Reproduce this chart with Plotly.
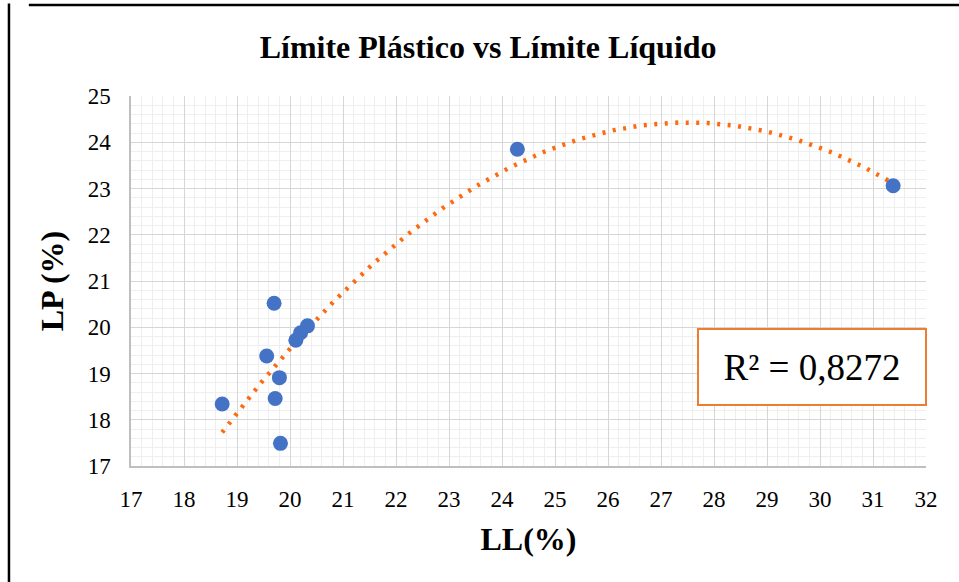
import numpy as np
import plotly.graph_objects as go

# Atterberg limits: liquid limit (LL) vs plastic limit (LP), in %
ll = [19.70, 20.33, 20.20, 20.11, 19.56, 19.80, 19.72, 18.72, 19.82, 24.29, 31.38]
lp = [20.52, 20.03, 19.88, 19.72, 19.38, 18.91, 18.46, 18.34, 17.49, 23.85, 23.06]

x_ticks = list(range(17, 33))
y_ticks = list(range(17, 26))
r2_label = "R² = 0,8272"

SERIF = "Liberation Serif, Times New Roman, serif"

# second-order polynomial trendline over the data range
coef = np.polyfit(ll, lp, 2)
xt = np.linspace(min(ll), max(ll), 200)
yt = np.polyval(coef, xt)

fig = go.Figure()
fig.add_trace(go.Scatter(
    x=xt, y=yt, mode="lines",
    line=dict(color="#FF6A10", width=4.5, dash="3px,7.5px"),
    hoverinfo="skip", showlegend=False,
))
fig.add_trace(go.Scatter(
    x=ll, y=lp, mode="markers",
    marker=dict(color="#4472C4", size=15, line=dict(width=0)),
    showlegend=False,
))

axis_common = dict(
    showgrid=True, gridcolor="#d6d6d6", gridwidth=1.2,
    showline=True, linecolor="#bfbfbf", linewidth=1.5,
    zeroline=False, ticks="",
    tickfont=dict(family=SERIF, size=23, color="#000"),
)

fig.update_xaxes(
    range=[17, 32], tickvals=x_ticks, ticktext=[str(v) for v in x_ticks],
    minor=dict(dtick=0.2, showgrid=True, gridcolor="#efefef", gridwidth=1),
    title=dict(text="<b>LL(%)</b>", font=dict(family=SERIF, size=32, color="#000"), standoff=16),
    ticklabelstandoff=12,
    **axis_common,
)
fig.update_yaxes(
    range=[17, 25], tickvals=y_ticks, ticktext=[str(v) for v in y_ticks],
    minor=dict(dtick=0.2, showgrid=True, gridcolor="#efefef", gridwidth=1),
    title=dict(text="<b>LP (%)</b>", font=dict(family=SERIF, size=32, color="#000"), standoff=14),
    ticklabelstandoff=14,
    **axis_common,
)

fig.add_annotation(
    xref="paper", yref="paper", x=0.8566, y=0.2676,
    xanchor="center", yanchor="middle",
    text=r2_label, showarrow=False,
    font=dict(family=SERIF, size=37, color="#000"),
    width=210, height=58, borderpad=8,
    bordercolor="#ED7D31", borderwidth=2, bgcolor="#ffffff",
    align="center",
)

# chart frame (top and left edges)
fig.add_shape(type="line", xref="paper", yref="paper", x0=-0.1285, x1=1.1, y0=1.2459, y1=1.2459,
              line=dict(color="#000", width=2.5), layer="above")
fig.add_shape(type="line", xref="paper", yref="paper", x0=-0.1535, x1=-0.1535, y0=-0.4, y1=1.25,
              line=dict(color="#000", width=2.5), layer="above")

fig.update_layout(
    width=959, height=582,
    margin=dict(l=131, r=33, t=96, b=116),
    paper_bgcolor="#ffffff", plot_bgcolor="#ffffff",
    title=dict(text="<b>Límite Plástico vs Límite Líquido</b>",
               font=dict(family=SERIF, size=32, color="#000"),
               x=0.509, xanchor="center", y=1 - 47 / 582, yanchor="middle",
               xref="container", yref="container"),
    showlegend=False,
)

fig.write_html("out.html")
